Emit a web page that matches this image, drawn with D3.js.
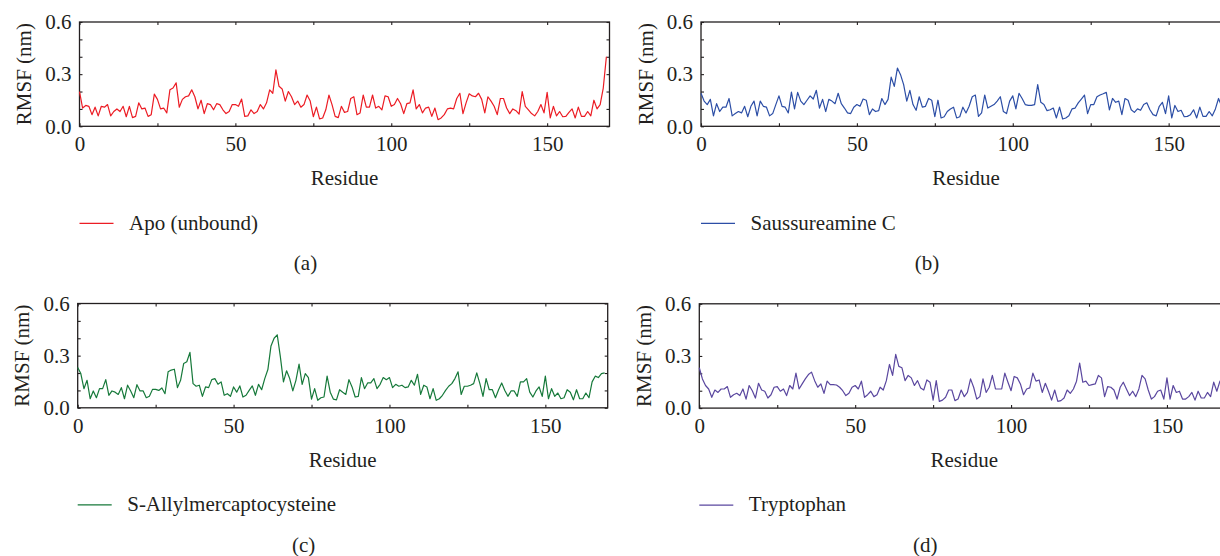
<!DOCTYPE html>
<html>
<head>
<meta charset="utf-8">
<script src="https://cdn.jsdelivr.net/npm/d3@7"></script>
<style>
  html, body { margin: 0; padding: 0; background: #fff; }
  svg { display: block; }
</style>
</head>
<body>
<svg id="chart" width="1220" height="556" font-family="Liberation Serif"></svg>
<script>
// ---------------- data ----------------
const apo = [0.20,0.105,0.12,0.115,0.067,0.11,0.06,0.115,0.11,0.125,
0.06,0.085,0.10,0.085,0.115,0.055,0.115,0.05,0.057,0.135,
0.10,0.105,0.057,0.067,0.185,0.155,0.10,0.105,0.077,0.21,
0.22,0.25,0.11,0.155,0.17,0.175,0.21,0.17,0.10,0.15,
0.073,0.13,0.125,0.095,0.13,0.125,0.095,0.073,0.085,0.125,
0.125,0.115,0.157,0.057,0.06,0.095,0.073,0.085,0.125,0.10,
0.135,0.21,0.19,0.325,0.23,0.215,0.145,0.20,0.17,0.125,
0.145,0.11,0.125,0.18,0.145,0.055,0.11,0.043,0.048,0.095,
0.18,0.125,0.057,0.05,0.115,0.08,0.085,0.16,0.17,0.067,
0.077,0.18,0.11,0.11,0.18,0.105,0.115,0.095,0.175,0.17,
0.115,0.125,0.16,0.13,0.073,0.13,0.135,0.21,0.10,0.125,
0.077,0.105,0.11,0.057,0.105,0.038,0.048,0.067,0.10,0.105,
0.10,0.16,0.19,0.073,0.135,0.187,0.175,0.17,0.19,0.155,
0.077,0.17,0.145,0.115,0.067,0.16,0.16,0.105,0.073,0.10,
0.09,0.07,0.20,0.115,0.095,0.073,0.06,0.085,0.125,0.077,
0.195,0.048,0.115,0.06,0.085,0.055,0.057,0.08,0.10,0.048,
0.11,0.057,0.057,0.085,0.06,0.15,0.10,0.125,0.22,0.40];

const saussureamineC = [0.19,0.145,0.125,0.155,0.06,0.13,0.085,0.11,0.11,0.16,
0.06,0.073,0.085,0.077,0.115,0.055,0.115,0.145,0.06,0.145,
0.115,0.11,0.06,0.073,0.125,0.175,0.115,0.11,0.077,0.197,
0.10,0.195,0.145,0.125,0.15,0.175,0.157,0.207,0.105,0.155,
0.085,0.155,0.145,0.13,0.19,0.13,0.105,0.077,0.073,0.11,
0.125,0.115,0.157,0.15,0.067,0.10,0.085,0.09,0.16,0.125,
0.155,0.283,0.23,0.335,0.297,0.24,0.145,0.207,0.125,0.092,
0.17,0.11,0.115,0.16,0.15,0.055,0.15,0.048,0.055,0.085,
0.10,0.11,0.048,0.055,0.11,0.077,0.115,0.17,0.18,0.057,
0.077,0.18,0.105,0.115,0.125,0.145,0.17,0.085,0.073,0.145,
0.175,0.10,0.19,0.16,0.125,0.12,0.12,0.125,0.24,0.138,
0.125,0.09,0.095,0.105,0.048,0.11,0.042,0.048,0.06,0.10,
0.105,0.135,0.157,0.18,0.073,0.125,0.125,0.17,0.18,0.187,
0.195,0.095,0.16,0.138,0.145,0.067,0.16,0.15,0.095,0.08,
0.10,0.092,0.125,0.135,0.095,0.067,0.06,0.115,0.138,0.073,
0.175,0.048,0.12,0.085,0.092,0.055,0.057,0.067,0.095,0.048,
0.11,0.057,0.057,0.085,0.06,0.10,0.16,0.115,0.16,0.14];

const sAllylmercaptocysteine = [0.232,0.197,0.11,0.158,0.052,0.097,0.058,0.11,0.11,0.162,
0.072,0.097,0.09,0.077,0.116,0.052,0.13,0.097,0.058,0.133,
0.097,0.097,0.058,0.066,0.106,0.106,0.10,0.114,0.081,0.207,
0.217,0.222,0.116,0.158,0.255,0.265,0.319,0.139,0.124,0.13,
0.066,0.12,0.116,0.162,0.168,0.135,0.149,0.072,0.081,0.066,
0.12,0.09,0.126,0.062,0.072,0.10,0.126,0.072,0.135,0.104,
0.168,0.22,0.356,0.40,0.42,0.294,0.149,0.213,0.168,0.097,
0.158,0.251,0.135,0.197,0.174,0.05,0.11,0.043,0.058,0.062,
0.182,0.09,0.05,0.046,0.104,0.09,0.077,0.162,0.12,0.062,
0.066,0.174,0.11,0.143,0.143,0.168,0.11,0.135,0.174,0.162,
0.174,0.116,0.135,0.124,0.13,0.116,0.12,0.158,0.13,0.193,
0.077,0.13,0.12,0.052,0.11,0.043,0.052,0.072,0.10,0.124,
0.139,0.168,0.207,0.077,0.124,0.124,0.13,0.139,0.201,0.139,
0.066,0.168,0.104,0.104,0.058,0.104,0.143,0.10,0.066,0.097,
0.097,0.066,0.149,0.149,0.168,0.09,0.062,0.097,0.12,0.066,
0.182,0.052,0.11,0.066,0.085,0.052,0.058,0.104,0.09,0.046,
0.104,0.052,0.052,0.085,0.058,0.149,0.182,0.174,0.197,0.201];

const tryptophan = [0.232,0.168,0.13,0.11,0.062,0.104,0.09,0.11,0.11,0.124,
0.062,0.077,0.085,0.072,0.11,0.052,0.13,0.10,0.058,0.143,
0.104,0.097,0.058,0.077,0.12,0.124,0.097,0.11,0.072,0.13,
0.11,0.201,0.11,0.139,0.168,0.193,0.207,0.158,0.12,0.139,
0.085,0.155,0.135,0.135,0.133,0.12,0.10,0.072,0.085,0.12,
0.13,0.11,0.155,0.062,0.077,0.097,0.066,0.077,0.12,0.104,
0.158,0.251,0.188,0.309,0.24,0.232,0.158,0.188,0.174,0.13,
0.158,0.116,0.104,0.162,0.149,0.046,0.158,0.039,0.046,0.062,
0.104,0.104,0.043,0.052,0.104,0.066,0.09,0.168,0.12,0.052,
0.066,0.168,0.09,0.12,0.188,0.11,0.11,0.11,0.201,0.149,
0.10,0.182,0.174,0.139,0.077,0.11,0.116,0.201,0.155,0.162,
0.09,0.143,0.097,0.046,0.104,0.039,0.043,0.058,0.104,0.085,
0.11,0.155,0.259,0.149,0.155,0.13,0.135,0.139,0.188,0.174,
0.066,0.124,0.12,0.104,0.052,0.12,0.149,0.11,0.072,0.097,
0.066,0.11,0.188,0.168,0.104,0.052,0.066,0.097,0.104,0.052,
0.174,0.052,0.13,0.09,0.097,0.052,0.052,0.066,0.09,0.046,
0.097,0.058,0.058,0.09,0.066,0.149,0.097,0.155,0.16,0.17];

const seriesNames = ["Apo (unbound)", "Saussureamine C", "S-Allylmercaptocysteine", "Tryptophan"];
const panelTags = ["(a)", "(b)", "(c)", "(d)"];
const xTickValues = [0, 25, 50, 75, 100, 125, 150];
const xTickLabels = [0, 50, 100, 150];
const yTickValues = [0, 0.1, 0.2, 0.3, 0.4, 0.5, 0.6];
const yTickLabels = ["0.0", "0.3", "0.6"];
const xDomain = [0, 170];
const yDomain = [0, 0.6];
const xTitle = "Residue";
const yTitle = "RMSF (nm)";

// ---------------- layout / style ----------------
const colors = ["#ec1c24", "#2c4ea6", "#16793a", "#5a479f"];
const panels = [
  { values: apo, left: 79.5, top: 22 },
  { values: saussureamineC, left: 701, top: 22 },
  { values: sAllylmercaptocysteine, left: 77.7, top: 303.5 },
  { values: tryptophan, left: 699.3, top: 303.8 }
];
const plotW = 530, plotH = 104.3;
const FONT = "Liberation Serif";
const fontSize = 21;
const ink = "#231f20";

const svg = d3.select("#chart");

function styleText(sel) {
  return sel.attr("font-family", FONT).style("font-family", FONT)
    .attr("font-size", fontSize).attr("fill", ink);
}

panels.forEach((p, i) => {
  const g = svg.append("g").attr("transform", `translate(${p.left},${p.top})`);
  const x = d3.scaleLinear().domain(xDomain).range([0, plotW]);
  const y = d3.scaleLinear().domain(yDomain).range([plotH, 0]);

  const fmtX = d => xTickLabels.includes(d) ? String(d) : "";
  const fmtY = d => {
    const s = d3.format(".1f")(d);
    return yTickLabels.includes(s) ? s : "";
  };

  const gx = g.append("g").attr("transform", `translate(0,${plotH})`)
    .call(d3.axisBottom(x).tickValues(xTickValues).tickSizeInner(-3).tickSizeOuter(0).tickPadding(10).tickFormat(fmtX));
  const gxt = g.append("g")
    .call(d3.axisTop(x).tickValues(xTickValues).tickSizeInner(-3).tickSizeOuter(0).tickFormat(""));
  const gy = g.append("g")
    .call(d3.axisLeft(y).tickValues(yTickValues).tickSizeInner(-3).tickSizeOuter(0).tickPadding(8).tickFormat(fmtY));
  const gyr = g.append("g").attr("transform", `translate(${plotW},0)`)
    .call(d3.axisRight(y).tickValues(yTickValues).tickSizeInner(-3).tickSizeOuter(0).tickFormat(""));

  [gx, gxt, gy, gyr].forEach(a => {
    a.attr("font-family", FONT);
    a.select(".domain").remove();
    a.selectAll("line").attr("stroke", ink).attr("stroke-width", 1.1);
    styleText(a.selectAll("text"));
  });

  g.append("rect").attr("x", 0).attr("y", 0).attr("width", plotW).attr("height", plotH)
    .attr("fill", "none").attr("stroke", ink).attr("stroke-width", 1.3);

  const line = d3.line().x((d, k) => x(k)).y(d => y(d));
  g.append("path").datum(p.values)
    .attr("fill", "none").attr("stroke", colors[i]).attr("stroke-width", 1.2)
    .attr("stroke-linejoin", "round").attr("d", line);

  styleText(g.append("text").attr("x", plotW / 2).attr("y", plotH + 59)
    .attr("text-anchor", "middle")).text(xTitle);
  styleText(g.append("text").attr("transform", `translate(-48.5,${plotH / 2}) rotate(-90)`)
    .attr("text-anchor", "middle")).text(yTitle);

  g.append("line").attr("x1", 0).attr("x2", 34).attr("y1", 201.3).attr("y2", 201.3)
    .attr("stroke", colors[i]).attr("stroke-width", 1.3);
  styleText(g.append("text").attr("x", 49.5).attr("y", 207.5)).text(seriesNames[i]);

  styleText(g.append("text").attr("x", 226).attr("y", 248).attr("text-anchor", "middle")).text(panelTags[i]);
});
</script>
</body>
</html>
